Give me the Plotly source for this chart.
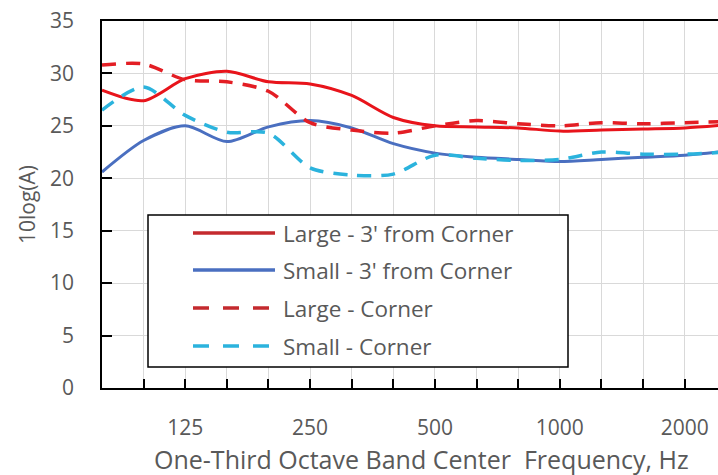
import plotly.graph_objects as go

bands = ["80", "100", "125", "160", "200", "250", "315", "400", "500", "630",
         "800", "1000", "1250", "1600", "2000", "2500"]
tick_labels = ["", "", "125", "", "", "250", "", "", "500", "", "", "1000", "", "", "2000", ""]

large_3ft = [28.4, 27.4, 29.5, 30.2, 29.2, 29.0, 27.9, 25.8, 25.0, 24.9, 24.8, 24.5, 24.6, 24.7, 24.8, 25.1]
small_3ft = [20.6, 23.6, 25.0, 23.5, 24.9, 25.5, 24.8, 23.3, 22.4, 22.0, 21.8, 21.6, 21.8, 22.0, 22.2, 22.6]
large_corner = [30.8, 30.9, 29.4, 29.2, 28.3, 25.3, 24.6, 24.3, 25.0, 25.5, 25.2, 25.0, 25.3, 25.2, 25.3, 25.4]
small_corner = [26.5, 28.7, 26.0, 24.4, 24.3, 21.0, 20.3, 20.4, 22.2, 21.9, 21.7, 21.8, 22.5, 22.3, 22.3, 22.5]

series_names = ["Large - 3' from Corner", "Small - 3' from Corner", "Large - Corner", "Small - Corner"]
series_vals = [large_3ft, small_3ft, large_corner, small_corner]
colors = ["#E8141B", "#4A6FC0", "#E31E24", "#2BB3DD"]
dashes = ["solid", "solid", "14px,10px", "14px,10px"]
widths = [3, 3, 3.5, 3.5]

x_idx = list(range(len(bands)))

fig = go.Figure()
for name, vals, c, d, w in zip(series_names, series_vals, colors, dashes, widths):
    fig.add_trace(go.Scatter(x=x_idx, y=vals, mode="lines", name=name,
                             line=dict(color=c, dash=d, width=w, shape="spline", smoothing=0.8),
                             showlegend=False))

# plot area geometry (pixels)
L, R, T, B = 102, 718, 21, 388
W, H = R - L, B - T

def px(x):
    return (x - L) / W

def py(y):
    return (B - y) / H

shapes = []
annotations = []
# legend box
shapes.append(dict(type="rect", xref="paper", yref="paper",
                   x0=px(148), x1=px(568), y0=py(367), y1=py(215),
                   line=dict(color="black", width=1.5), fillcolor="white", layer="above"))
rows = [233, 270, 308, 346]
legend_colors = ["#C42A2E", "#4A6FC0", "#C42A2E", "#2BB3DD"]
for r, name, c, d in zip(rows, series_names, legend_colors, dashes):
    shapes.append(dict(type="line", xref="paper", yref="paper",
                       x0=px(193), x1=px(275), y0=py(r), y1=py(r),
                       line=dict(color=c, width=3.5, dash=("solid" if d == "solid" else "16px,14px")),
                       layer="above"))
    annotations.append(dict(text=name, xref="paper", yref="paper", x=px(281), y=py(r),
                            xanchor="left", yanchor="middle", showarrow=False,
                            font=dict(size=22.5, color="#595959", family="Open Sans")))

annotations.append(dict(text="One-Third Octave Band Center  Frequency, Hz", xref="paper", yref="paper",
                        x=px(422), y=py(459), xanchor="center", yanchor="middle", showarrow=False,
                        font=dict(size=25, color="#595959", family="Open Sans")))

fig.update_layout(
    width=718, height=475,
    margin=dict(l=L, r=718 - R, t=T, b=475 - B),
    paper_bgcolor="white", plot_bgcolor="white",
    font=dict(family="Open Sans", color="#595959", size=21),
    shapes=shapes, annotations=annotations,
    xaxis=dict(range=[0, 14.8], tickmode="array", tickvals=x_idx, ticktext=tick_labels,
               showgrid=True, gridcolor="#D9D9D9", gridwidth=1,
               showline=True, linecolor="black", linewidth=1.5, mirror=True,
               ticks="inside", ticklen=9, tickcolor="black", tickwidth=1.5,
               ticklabelstandoff=20, zeroline=False, tickfont=dict(size=21)),
    yaxis=dict(range=[0, 35], tickvals=[0, 5, 10, 15, 20, 25, 30, 35],
               showgrid=True, gridcolor="#D9D9D9", gridwidth=1,
               showline=True, linecolor="black", linewidth=1.5, mirror=False,
               ticks="inside", ticklen=10, tickcolor="black", tickwidth=1.5,
               ticklabelstandoff=22, zeroline=False, tickfont=dict(size=21)),
)
annotations_y = dict(text="10log(A)", xref="paper", yref="paper", x=px(27), y=py(205),
                     xanchor="center", yanchor="middle", showarrow=False, textangle=-90,
                     font=dict(size=21, color="#595959", family="Open Sans"))
fig.add_annotation(**annotations_y)

fig.write_html("out.html")
